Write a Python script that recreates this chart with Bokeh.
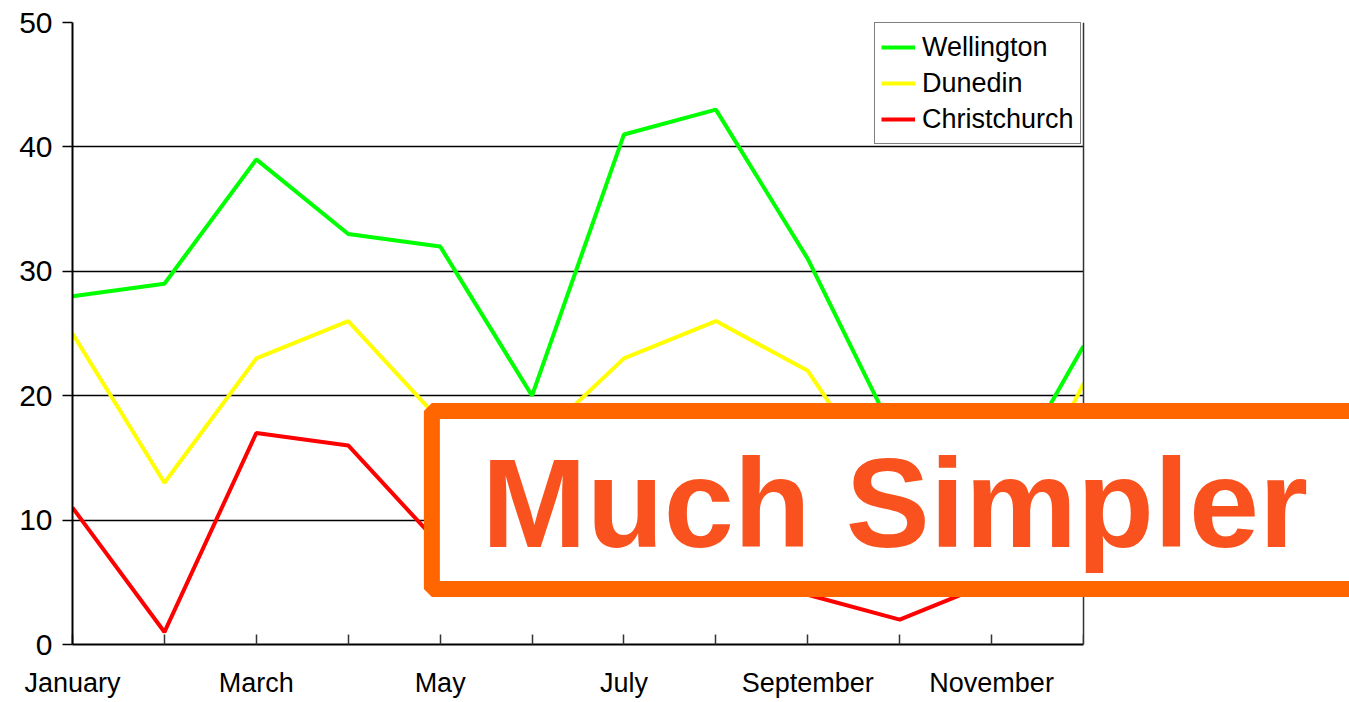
from bokeh.plotting import figure
from bokeh.models import Range1d, FixedTicker, Legend, LegendItem, Label, BoxAnnotation, Span
from bokeh.embed import file_html
from bokeh.resources import INLINE

months = ["January", "February", "March", "April", "May", "June", "July",
          "August", "September", "October", "November", "December"]
wellington = [28, 29, 39, 33, 32, 20, 41, 43, 31, 16, 11, 24]
dunedin = [25, 13, 23, 26, 18, 16, 23, 26, 22, 11, 6, 21]
christchurch = [11, 1, 17, 16, 8, 10, 12, 7, 4, 2, 5, 9]
y_ticks = [0, 10, 20, 30, 40, 50]
banner_text = "Much Simpler"

x = list(range(len(months)))
last = len(months) - 1

# frame spans the full width so the banner can run past the chart's right edge
p = figure(width=1349, height=702, output_backend="svg", toolbar_location=None,
           x_range=Range1d(0, 13.894), y_range=Range1d(0, 50),
           min_border_left=72, min_border_right=0, min_border_top=22,
           min_border_bottom=58)
p.background_fill_color = "white"
p.border_fill_color = "white"
p.outline_line_color = None

series = [("Wellington", wellington, "#00FF00"),
          ("Dunedin", dunedin, "#FFFF00"),
          ("Christchurch", christchurch, "#FF0000")]
items = []
for name, vals, col in series:
    r = p.line(x, vals, line_color=col, line_width=4)
    items.append(LegendItem(label=name, renderers=[r]))

# axes
p.xaxis.ticker = FixedTicker(ticks=x)
p.xaxis.bounds = (0, last)
p.xaxis.major_label_overrides = {i: (m if i % 2 == 0 else "") for i, m in enumerate(months)}
p.xaxis.major_tick_in = 10
p.xaxis.major_tick_out = 0
p.xaxis.minor_tick_line_color = None
p.xaxis.major_label_text_font = "Liberation Sans, Arial, sans-serif"
p.xaxis.major_label_text_font_size = "27px"
p.xaxis.major_label_text_color = "black"
p.xaxis.major_label_standoff = 23
p.xaxis.axis_line_width = 2
p.xaxis.axis_line_color = "black"
p.xaxis.major_tick_line_color = "#333333"
p.xaxis.major_tick_line_width = 1.5

p.yaxis.ticker = FixedTicker(ticks=y_ticks)
p.yaxis.major_tick_in = 0
p.yaxis.major_tick_out = 10
p.yaxis.minor_tick_line_color = None
p.yaxis.major_label_text_font = "Liberation Sans, Arial, sans-serif"
p.yaxis.major_label_text_font_size = "30px"
p.yaxis.major_label_text_color = "black"
p.yaxis.major_label_standoff = 10
p.yaxis.axis_line_width = 2
p.yaxis.axis_line_color = "black"
p.yaxis.major_tick_line_color = "black"
p.yaxis.major_tick_line_width = 1.5

p.xgrid.grid_line_color = None
p.ygrid.grid_line_color = "black"
p.ygrid.grid_line_width = 1.5
p.ygrid.grid_line_alpha = 1.0

# blank area right of the chart, and the chart's right border
p.add_layout(BoxAnnotation(left=last, fill_color="white", fill_alpha=1.0,
                           line_color=None))
p.add_layout(Span(location=last, dimension="height", line_color="#333333",
                  line_width=1.5))

legend = Legend(items=items, location=(802, 500), margin=0, padding=6,
                spacing=0, glyph_width=34, glyph_height=36, label_height=36,
                label_standoff=7,
                label_text_font="Liberation Sans, Arial, sans-serif",
                label_text_font_size="27px", label_text_color="black",
                border_line_color="black", border_line_width=1,
                background_fill_color="white", background_fill_alpha=1.0)
p.add_layout(legend)

banner = Label(x=3.91, y=11.61, x_units="data", y_units="data", text=banner_text,
               text_font="Liberation Sans, Arial, sans-serif", text_font_style="bold",
               text_font_size="126px", text_color="#F9521E",
               text_align="left", text_baseline="middle",
               background_fill_color="white", background_fill_alpha=1.0,
               border_line_color="#FF6600", border_line_width=16,
               padding=dict(left=50, right=150, top=22, bottom=15))
p.add_layout(banner)

open("out.html", "w").write(file_html(p, INLINE))
